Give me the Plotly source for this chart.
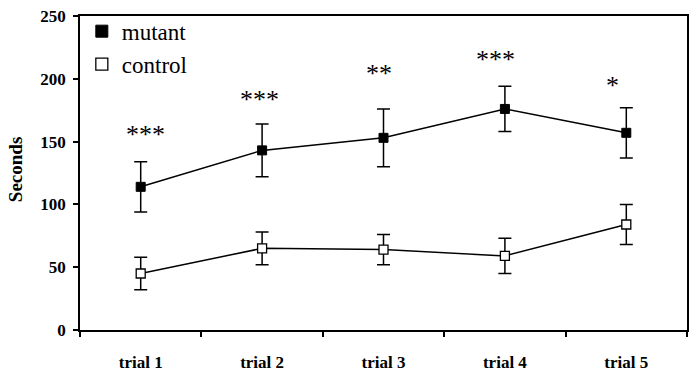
import plotly.graph_objects as go

trials = ["trial 1", "trial 2", "trial 3", "trial 4", "trial 5"]
mutant_mean = [114, 143, 153, 176, 157]
mutant_err = [20, 21, 23, 18, 20]
control_mean = [45, 65, 64, 59, 84]
control_err = [13, 13, 12, 14, 16]
stars = ["***", "***", "**", "***", "*"]
star_y = [157, 185, 206, 217, 196]

SERIF = "Liberation Serif"

fig = go.Figure()

err_style = dict(type="data", thickness=1.5, width=6.5, color="black")

fig.add_trace(go.Scatter(
    x=trials, y=mutant_mean, mode="lines+markers", showlegend=False,
    line=dict(color="black", width=1.5),
    marker=dict(symbol="square", size=9, color="black", line=dict(color="black", width=1)),
    error_y=dict(array=mutant_err, **err_style),
))
fig.add_trace(go.Scatter(
    x=trials, y=control_mean, mode="lines+markers", showlegend=False,
    line=dict(color="black", width=1.5),
    marker=dict(symbol="square", size=9, color="white", line=dict(color="black", width=1.3)),
    error_y=dict(array=control_err, **err_style),
))
# legend entries (marker only)
fig.add_trace(go.Scatter(
    x=[None], y=[None], mode="markers", name="mutant", legendgroup="a",
    marker=dict(symbol="square", size=12, color="black", line=dict(color="black", width=1)),
))
fig.add_trace(go.Scatter(
    x=[None], y=[None], mode="markers", name="control", legendgroup="b",
    marker=dict(symbol="square", size=12, color="white", line=dict(color="black", width=1.3)),
))

star_xshift = [5, -3, -5, -9, -14]
for t, s, yv, dx in zip(trials, stars, star_y, star_xshift):
    fig.add_annotation(x=t, y=yv, text=s, showarrow=False, xshift=dx, yshift=-2,
                       font=dict(family=SERIF, size=26, color="black"))

fig.add_annotation(xref="paper", yref="paper", x=-0.105, y=0.51, xanchor="center",
                   yanchor="middle", text="<b>Seconds</b>",
                   textangle=-90, showarrow=False,
                   font=dict(family=SERIF, size=19, color="black"))

fig.update_layout(
    width=698, height=376,
    margin=dict(l=80, r=11, t=16, b=46, autoexpand=False),
    paper_bgcolor="white", plot_bgcolor="white",
    showlegend=True,
    legend=dict(x=0.003, y=1.02, xanchor="left", yanchor="top",
                font=dict(family=SERIF, size=23, color="black"),
                bgcolor="rgba(0,0,0,0)", traceorder="grouped", tracegroupgap=0,
                itemwidth=30),
    xaxis=dict(
        type="category", range=[-0.5, 4.5],
        showline=True, linecolor="black", linewidth=1.5, mirror=True,
        ticks="outside", ticklen=5, tickwidth=1.5, tickcolor="black", tickson="boundaries",
        showgrid=False, zeroline=False, automargin=False, ticklabelstandoff=16,
        tickfont=dict(family=SERIF, size=17, color="black"),
        tickprefix="<b>", ticksuffix="</b>",
    ),
    yaxis=dict(
        range=[0, 250], dtick=50, showline=True, linecolor="black", linewidth=1.5, mirror=True,
        ticks="outside", ticklen=5, tickwidth=1.5, tickcolor="black",
        showgrid=False, zeroline=False, automargin=False, ticklabelstandoff=4,
        tickfont=dict(family=SERIF, size=17, color="black"),
        tickprefix="<b>", ticksuffix="</b>",
    ),
)

fig.write_html("out.html", config={"displayModeBar": False},
               post_script="document.body.style.margin='0px';")
